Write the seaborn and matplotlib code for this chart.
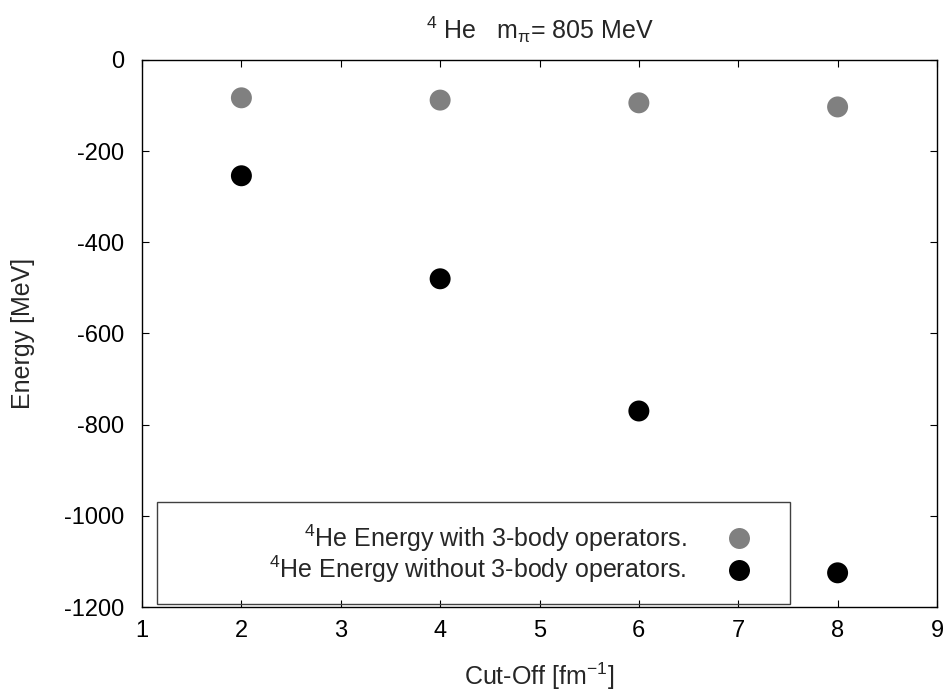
import matplotlib
matplotlib.use("Agg")
import matplotlib.pyplot as plt
import seaborn as sns
import pandas as pd
from matplotlib.patches import Rectangle

cutoff = [2, 4, 6, 8]
energy_with_3body = [-83, -88, -94, -103]
energy_without_3body = [-254, -480, -770, -1125]
label_with = r"$^4$He Energy with 3-body operators."
label_without = r"$^4$He Energy without 3-body operators."
xticks = [1, 2, 3, 4, 5, 6, 7, 8, 9]
yticks = [0, -200, -400, -600, -800, -1000, -1200]

sns.set_theme(style="ticks")
plt.rcParams["font.family"] = ["Liberation Sans", "DejaVu Sans"]
plt.rcParams["mathtext.fontset"] = "custom"
plt.rcParams["mathtext.rm"] = "Liberation Sans"
plt.rcParams["mathtext.it"] = "Liberation Sans"
plt.rcParams["mathtext.bf"] = "Liberation Sans:bold"
plt.rcParams["axes.unicode_minus"] = False

fs = 18
fs_tick = 17
fig = plt.figure(figsize=(9.45, 6.95), dpi=100)
ax = fig.add_axes([0.1503, 0.1266, 0.8412, 0.7871])

df = pd.DataFrame({"x": cutoff * 2,
                   "y": energy_with_3body + energy_without_3body,
                   "s": [label_with] * 4 + [label_without] * 4})
sns.scatterplot(data=df, x="x", y="y", hue="s",
                palette={label_with: "#808080", label_without: "#000000"},
                s=228, linewidth=0, ax=ax, legend=True, zorder=3)

ax.set_xlim(1, 9)
ax.set_ylim(-1200, 0)
ax.set_xticks(xticks)
ax.set_yticks(yticks)
ax.tick_params(direction="in", length=5, width=0.8, top=True, right=True,
               labelsize=fs_tick, colors="black")
ax.tick_params(axis="y", pad=13)
ax.tick_params(axis="x", pad=9)
for sp in ax.spines.values():
    sp.set_linewidth(1.0)
    sp.set_color("black")

ax.set_xlabel(r"Cut-Off [fm$^{-1}$]", fontsize=fs, labelpad=14)
ax.set_ylabel("Energy [MeV]", fontsize=fs, labelpad=21)
ax.set_title(r"$^4$ He   m$_{\mathrm{\pi}}$= 805 MeV", fontsize=fs, pad=15)

# legend box
ax.add_patch(Rectangle((0.0189, 0.0055), 0.796, 0.1865, transform=ax.transAxes,
                       fill=False, edgecolor="#404040", linewidth=1.0, zorder=2))
leg = ax.legend(loc="center right", bbox_to_anchor=(0.7667, 0.097),
                frameon=False, markerfirst=False, fontsize=fs,
                handlelength=1.0, handletextpad=1.6, borderpad=0,
                labelspacing=0.0, borderaxespad=0)

fig.savefig("out.png", dpi=100)
